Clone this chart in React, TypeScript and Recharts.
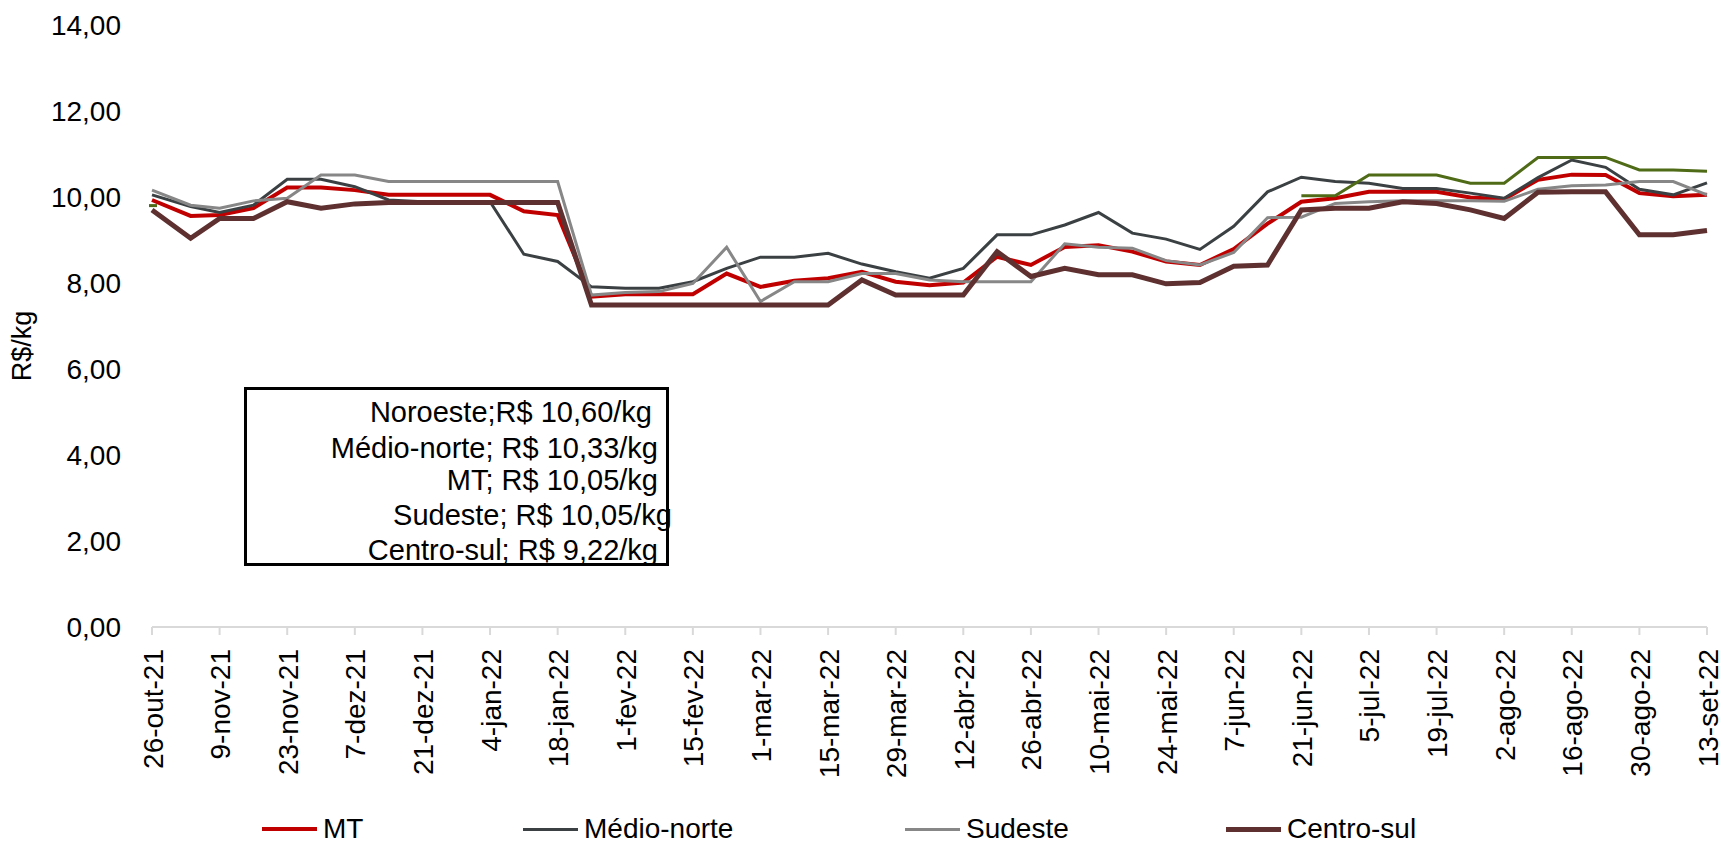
import { LineChart, Line, XAxis, YAxis, Legend } from 'recharts';

// datas das cotações (semanais)
const datas = [
  '26-out-21', '3-nov-21', '9-nov-21', '16-nov-21', '23-nov-21', '30-nov-21', '7-dez-21', '14-dez-21',
  '21-dez-21', '28-dez-21', '4-jan-22', '11-jan-22', '18-jan-22', '25-jan-22', '1-fev-22', '8-fev-22',
  '15-fev-22', '22-fev-22', '1-mar-22', '8-mar-22', '15-mar-22', '22-mar-22', '29-mar-22', '5-abr-22',
  '12-abr-22', '19-abr-22', '26-abr-22', '3-mai-22', '10-mai-22', '17-mai-22', '24-mai-22', '31-mai-22',
  '7-jun-22', '14-jun-22', '21-jun-22', '28-jun-22', '5-jul-22', '12-jul-22', '19-jul-22', '26-jul-22',
  '2-ago-22', '9-ago-22', '16-ago-22', '23-ago-22', '30-ago-22', '6-set-22', '13-set-22',
];

// rótulos do eixo X (a cada 14 dias)
const rotulos = [
  '26-out-21', '9-nov-21', '23-nov-21', '7-dez-21', '21-dez-21', '4-jan-22', '18-jan-22', '1-fev-22',
  '15-fev-22', '1-mar-22', '15-mar-22', '29-mar-22', '12-abr-22', '26-abr-22', '10-mai-22', '24-mai-22',
  '7-jun-22', '21-jun-22', '5-jul-22', '19-jul-22', '2-ago-22', '16-ago-22', '30-ago-22', '13-set-22',
];

const ticksY = [0, 2, 4, 6, 8, 10, 12, 14];

// R$/kg
const mt = [
  9.93, 9.56, 9.58, 9.74, 10.22, 10.22, 10.16, 10.05, 10.05, 10.05, 10.05, 9.67, 9.58, 7.68, 7.74, 7.74,
  7.74, 8.22, 7.91, 8.05, 8.11, 8.26, 8.03, 7.95, 8.01, 8.61, 8.42, 8.84, 8.88, 8.73, 8.5, 8.42,
  8.79, 9.38, 9.89, 9.97, 10.12, 10.12, 10.12, 9.99, 9.95, 10.4, 10.52, 10.51, 10.09, 10.02, 10.05,
];
const medioNorte = [
  10.05, 9.78, 9.64, 9.81, 10.41, 10.41, 10.24, 9.93, 9.89, 9.89, 9.89, 8.67, 8.5, 7.91, 7.88, 7.88,
  8.03, 8.34, 8.6, 8.6, 8.69, 8.44, 8.26, 8.11, 8.34, 9.12, 9.12, 9.35, 9.64, 9.16, 9.02, 8.78,
  9.32, 10.12, 10.46, 10.36, 10.32, 10.2, 10.2, 10.09, 9.97, 10.45, 10.86, 10.69, 10.18, 10.05, 10.33,
];
const sudeste = [
  10.16, 9.81, 9.74, 9.91, 9.97, 10.51, 10.51, 10.36, 10.36, 10.36, 10.36, 10.36, 10.36, 7.72, 7.78, 7.8,
  7.99, 8.83, 7.57, 8.03, 8.03, 8.22, 8.22, 8.07, 8.03, 8.03, 8.03, 8.91, 8.83, 8.81, 8.52, 8.42,
  8.71, 9.52, 9.53, 9.85, 9.89, 9.91, 9.91, 9.91, 9.9, 10.18, 10.26, 10.28, 10.36, 10.36, 10.05,
];
const centroSul = [
  9.7, 9.04, 9.5, 9.5, 9.89, 9.74, 9.84, 9.87, 9.87, 9.87, 9.87, 9.87, 9.87, 7.49, 7.49, 7.49,
  7.49, 7.49, 7.49, 7.49, 7.49, 8.07, 7.72, 7.72, 7.72, 8.73, 8.15, 8.34, 8.19, 8.19, 7.98, 8.01,
  8.39, 8.42, 9.7, 9.74, 9.74, 9.89, 9.85, 9.7, 9.5, 10.11, 10.12, 10.12, 9.12, 9.12, 9.22,
];
const noroeste = [
  9.8, null, null, null, null, null, null, null, null, null, null, null, null, null, null, null,
  null, null, null, null, null, null, null, null, null, null, null, null, null, null, null, null,
  null, null, 10.03, 10.03, 10.51, 10.51, 10.51, 10.32, 10.32, 10.92, 10.92, 10.92, 10.63, 10.63, 10.6,
];

const destaques = [
  'Noroeste;R$ 10,60/kg',
  'Médio-norte; R$ 10,33/kg',
  'MT; R$ 10,05/kg',
  'Sudeste; R$ 10,05/kg',
  'Centro-sul; R$ 9,22/kg',
];

const FONTE = "'Liberation Sans', Arial, sans-serif";

const meses = ['jan', 'fev', 'mar', 'abr', 'mai', 'jun', 'jul', 'ago', 'set', 'out', 'nov', 'dez'];

function emMs(rotulo: string) {
  const [d, m, a] = rotulo.split('-');
  return Date.UTC(2000 + Number(a), meses.indexOf(m), Number(d));
}
const inicio = emMs(datas[0]);
const diaDe = (rotulo: string) => Math.round((emMs(rotulo) - inicio) / 86400000);

const dados = datas.map((d, i) => ({
  dia: diaDe(d),
  mt: mt[i],
  medioNorte: medioNorte[i],
  sudeste: sudeste[i],
  centroSul: centroSul[i],
  noroeste: noroeste[i],
}));

const ticksX = rotulos.map(diaDe);
const rotuloPorDia = new Map(rotulos.map((r) => [diaDe(r), r]));

const series = [
  { key: 'mt', nome: 'MT', cor: '#C00000', largura: 4 },
  { key: 'medioNorte', nome: 'Médio-norte', cor: '#3B4143', largura: 3 },
  { key: 'sudeste', nome: 'Sudeste', cor: '#878787', largura: 3 },
  { key: 'centroSul', nome: 'Centro-sul', cor: '#5E3030', largura: 5 },
];
const legendaX = [262, 523, 905, 1226];

function TickX(props: any) {
  const { x, y, payload } = props;
  return (
    <text
      transform={`translate(${x + 1},${y + 12}) rotate(-90)`}
      textAnchor="end"
      dominantBaseline="central"
      fontSize={28}
      fontFamily={FONTE}
      fill="#000"
    >
      {rotuloPorDia.get(payload.value)}
    </text>
  );
}

function TickY(props: any) {
  const { x, y, payload } = props;
  return (
    <text x={x - 31} y={y} textAnchor="end" dominantBaseline="central" fontSize={28} fontFamily={FONTE} fill="#000">
      {payload.value.toFixed(2).replace('.', ',')}
    </text>
  );
}

function Legenda() {
  return (
    <div style={{ position: 'relative', width: 1723, height: 48, fontFamily: FONTE, fontSize: 28 }}>
      {series.map((s, i) => (
        <div
          key={s.key}
          style={{ position: 'absolute', left: legendaX[i], top: 10, height: 38, display: 'flex', alignItems: 'center' }}
        >
          <span style={{ display: 'inline-block', width: 55, height: s.largura, background: s.cor }} />
          <span style={{ marginLeft: 6, color: '#000' }}>{s.nome}</span>
        </div>
      ))}
    </div>
  );
}

export default function App() {
  return (
    <div style={{ position: 'absolute', left: 0, top: 0, width: 1723, height: 848, background: '#fff' }}>
      <LineChart width={1723} height={848} data={dados} margin={{ top: 25, right: 16, left: 0, bottom: 0 }}>
        <XAxis
          type="number"
          dataKey="dia"
          domain={[dados[0].dia, dados[dados.length - 1].dia]}
          ticks={ticksX}
          interval={0}
          height={173}
          axisLine={{ stroke: '#d9d9d9', strokeWidth: 2 }}
          tickLine={{ stroke: '#d9d9d9', strokeWidth: 2 }}
          tickSize={8}
          tick={(p: any) => <TickX {...p} />}
        />
        <YAxis
          type="number"
          domain={[0, 14]}
          ticks={ticksY}
          width={152}
          axisLine={false}
          tickLine={false}
          tickSize={0}
          tickMargin={0}
          tick={(p: any) => <TickY {...p} />}
          label={{
            content: (p: any) => {
              const vb = p.viewBox || { x: 0, y: 25, width: 152, height: 602 };
              const cx = vb.x + 22;
              const cy = vb.y + vb.height / 2 + 20;
              return (
                <text
                  x={cx}
                  y={cy}
                  transform={`rotate(-90 ${cx} ${cy})`}
                  textAnchor="middle"
                  dominantBaseline="central"
                  fontSize={27}
                  fontFamily={FONTE}
                  fill="#000"
                >
                  R$/kg
                </text>
              );
            },
          }}
        />
        <Legend verticalAlign="bottom" align="left" content={() => <Legenda />} wrapperStyle={{ left: 0, width: 1723 }} />
        {series.map((s) => (
          <Line
            key={s.key}
            type="linear"
            dataKey={s.key}
            name={s.nome}
            stroke={s.cor}
            strokeWidth={s.largura}
            dot={false}
            activeDot={false}
            isAnimationActive={false}
          />
        ))}
        <Line
          type="linear"
          dataKey="noroeste"
          name="Noroeste"
          stroke="#4F6B17"
          strokeWidth={3}
          legendType="none"
          activeDot={false}
          isAnimationActive={false}
          dot={(p: any) =>
            p.index === 0 && p.cy != null ? (
              <rect key={`n${p.index}`} x={p.cx - 3} y={p.cy - 1.5} width={8} height={3} fill="#4F6B17" />
            ) : (
              <g key={`n${p.index}`} />
            )
          }
        />
      </LineChart>
      <div
        style={{
          position: 'absolute',
          left: 244,
          top: 387,
          width: 425,
          height: 179,
          boxSizing: 'border-box',
          border: '3px solid #000',
          background: '#fff',
          fontFamily: FONTE,
          fontSize: 29,
          color: '#000',
        }}
      >
        {destaques.map((t, i) => (
          <div
            key={t}
            style={{
              position: 'absolute',
              right: [14, 8, 8, -6, 8][i],
              top: [25, 61, 93, 128, 163][i] - 3 - 17,
              height: 34,
              lineHeight: '34px',
              whiteSpace: 'nowrap',
            }}
          >
            {t}
          </div>
        ))}
      </div>
    </div>
  );
}
